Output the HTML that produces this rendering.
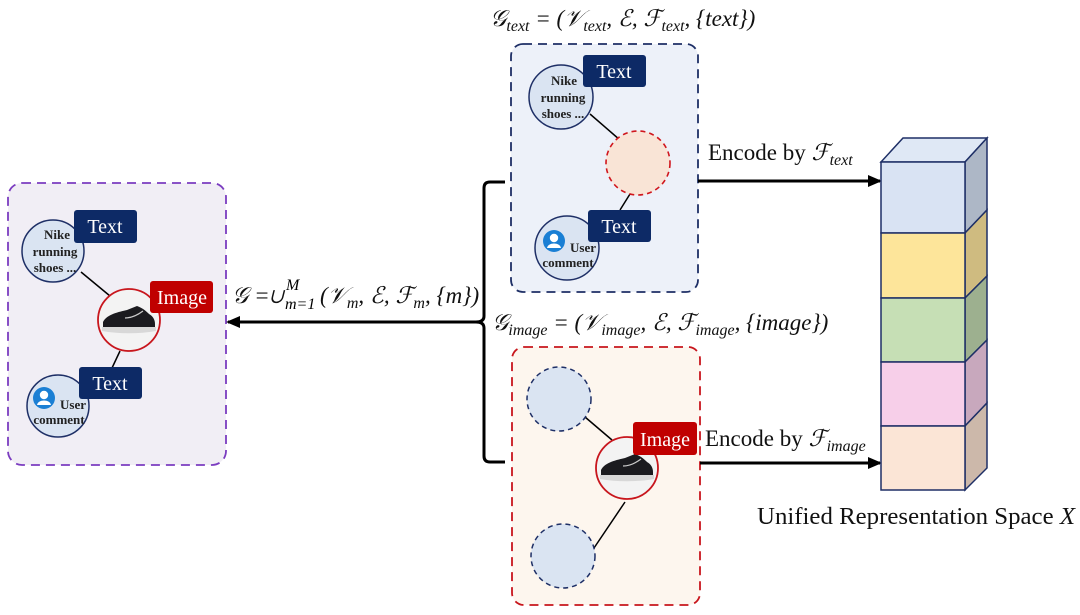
<!DOCTYPE html>
<html><head><meta charset="utf-8"><style>
html,body{margin:0;padding:0;background:#fff;}
svg{display:block;}
text{font-family:"Liberation Serif",serif;}
.lbl{font-size:20px;fill:#fff;}
.node{font-size:13px;font-weight:bold;fill:#222;}
.math{font-size:23px;font-style:italic;fill:#111;}
.sub{font-size:16px;}
</style></head><body>
<svg width="1080" height="615" viewBox="0 0 1080 615" xmlns="http://www.w3.org/2000/svg">
<defs>
<marker id="ah" markerWidth="14" markerHeight="12" refX="12" refY="6" orient="auto" markerUnits="userSpaceOnUse">
<path d="M0,0 L14,6 L0,12 Z" fill="#000"/></marker>
<g id="shoe">
<circle r="31" fill="#f3f3f3"/>
<path d="M-26,2 C-22,-6 -10,-8 -2,-10 L8,-14 C14,-12 18,-8 20,-6 C24,-4 26,0 26,4 L26,8 L-26,8 Z" fill="#1b1b1f"/>
<path d="M-27,7 L27,7 L27,11 C10,14 -10,14 -27,11 Z" fill="#d8d8d8"/>
<path d="M-4,-2 C4,-2 10,-6 14,-9" stroke="#ccc" stroke-width="1.2" fill="none"/>
</g>
<g id="user">
<circle r="11" fill="#1a7fd4"/>
<circle cy="-3" r="4.2" fill="#fff"/>
<path d="M-7,7 C-6,1 6,1 7,7 Z" fill="#fff"/>
</g>
</defs>

<rect x="8" y="183" width="218" height="282" rx="14" fill="#f1eef5" stroke="#7b3cc0" stroke-width="1.8" stroke-dasharray="9,6"/>
<line x1="81" y1="272" x2="110" y2="296" stroke="#000" stroke-width="1.5"/>
<line x1="120" y1="351" x2="112" y2="368" stroke="#000" stroke-width="1.5"/>
<circle cx="53" cy="251" r="31" fill="#dae4f2" stroke="#1e2f66" stroke-width="1.5"/>
<text class="node" x="57" y="239" text-anchor="middle">Nike</text>
<text class="node" x="55" y="256" text-anchor="middle">running</text>
<text class="node" x="55" y="272" text-anchor="middle">shoes ...</text>
<rect x="74" y="210" width="63" height="33" rx="3" fill="#0d2a66"/>
<text class="lbl" x="105" y="233" text-anchor="middle">Text</text>
<use href="#shoe" x="129" y="320"/>
<circle cx="129" cy="320" r="31" fill="none" stroke="#c8161d" stroke-width="1.8"/>
<rect x="150" y="281" width="63" height="32" rx="3" fill="#c00000"/>
<text class="lbl" x="182" y="304" text-anchor="middle">Image</text>
<circle cx="58" cy="406" r="31" fill="#dae4f2" stroke="#1e2f66" stroke-width="1.5"/>
<use href="#user" x="44" y="398"/>
<text class="node" x="73" y="409" text-anchor="middle">User</text>
<text class="node" x="59" y="424" text-anchor="middle">comment</text>
<rect x="79" y="367" width="63" height="32" rx="3" fill="#0d2a66"/>
<text class="lbl" x="110" y="390" text-anchor="middle">Text</text>

<text class="math" x="232" y="303">𝒢 =∪</text>
<text class="sub" x="286" y="290" font-style="italic">M</text>
<text class="sub" x="285" y="309" font-style="italic">m=1</text>
<text class="math" x="320" y="303">(𝒱<tspan class="sub" dy="5">m</tspan><tspan dy="-5">, ℰ, ℱ</tspan><tspan class="sub" dy="5">m</tspan><tspan dy="-5">, {m})</tspan></text>

<path d="M505,182 L490,182 Q484,182 484,188 L484,316 Q484,322 476,322 Q484,322 484,328 L484,456 Q484,462 490,462 L505,462" fill="none" stroke="#000" stroke-width="3"/>
<line x1="478" y1="322" x2="228" y2="322" stroke="#000" stroke-width="3" marker-end="url(#ah)"/>

<text class="math" x="490" y="26">𝒢<tspan class="sub" dy="5">text</tspan><tspan dy="-5"> = (𝒱</tspan><tspan class="sub" dy="5">text</tspan><tspan dy="-5">, ℰ, ℱ</tspan><tspan class="sub" dy="5">text</tspan><tspan dy="-5">, {text})</tspan></text>
<rect x="511" y="44" width="187" height="248" rx="12" fill="#edf1f9" stroke="#1e2f66" stroke-width="1.8" stroke-dasharray="9,6"/>
<line x1="590" y1="114" x2="620" y2="140" stroke="#000" stroke-width="1.5"/>
<line x1="630" y1="194" x2="620" y2="210" stroke="#000" stroke-width="1.5"/>
<circle cx="561" cy="97" r="32" fill="#dae4f2" stroke="#1e2f66" stroke-width="1.5"/>
<text class="node" x="564" y="85" text-anchor="middle">Nike</text>
<text class="node" x="563" y="102" text-anchor="middle">running</text>
<text class="node" x="563" y="118" text-anchor="middle">shoes ...</text>
<rect x="583" y="55" width="63" height="32" rx="3" fill="#0d2a66"/>
<text class="lbl" x="614" y="78" text-anchor="middle">Text</text>
<circle cx="638" cy="163" r="32" fill="#f9e4d6" stroke="#d0161d" stroke-width="1.6" stroke-dasharray="5,4"/>
<circle cx="567" cy="248" r="32" fill="#dae4f2" stroke="#1e2f66" stroke-width="1.5"/>
<use href="#user" x="554" y="241"/>
<text class="node" x="583" y="252" text-anchor="middle">User</text>
<text class="node" x="568" y="267" text-anchor="middle">comment</text>
<rect x="588" y="210" width="63" height="32" rx="3" fill="#0d2a66"/>
<text class="lbl" x="619" y="233" text-anchor="middle">Text</text>

<text class="math" x="492" y="330">𝒢<tspan class="sub" dy="5">image</tspan><tspan dy="-5"> = (𝒱</tspan><tspan class="sub" dy="5">image</tspan><tspan dy="-5">, ℰ, ℱ</tspan><tspan class="sub" dy="5">image</tspan><tspan dy="-5">, {image})</tspan></text>
<rect x="512" y="347" width="188" height="258" rx="12" fill="#fdf6ee" stroke="#c8161d" stroke-width="1.8" stroke-dasharray="9,6"/>
<line x1="585" y1="417" x2="612" y2="440" stroke="#000" stroke-width="1.5"/>
<line x1="625" y1="502" x2="594" y2="548" stroke="#000" stroke-width="1.5"/>
<circle cx="559" cy="399" r="32" fill="#dae4f2" stroke="#1e2f66" stroke-width="1.5" stroke-dasharray="5,4"/>
<circle cx="563" cy="556" r="32" fill="#dae4f2" stroke="#1e2f66" stroke-width="1.5" stroke-dasharray="5,4"/>
<use href="#shoe" x="627" y="468"/>
<circle cx="627" cy="468" r="31" fill="none" stroke="#c8161d" stroke-width="1.8"/>
<rect x="633" y="422" width="64" height="33" rx="3" fill="#c00000"/>
<text class="lbl" x="665" y="446" text-anchor="middle">Image</text>

<text x="708" y="160" font-size="23" fill="#111">Encode by <tspan font-style="italic">ℱ</tspan><tspan font-style="italic" font-size="16" dy="5">text</tspan></text>
<line x1="698" y1="181" x2="880" y2="181" stroke="#000" stroke-width="3" marker-end="url(#ah)"/>
<text x="705" y="446" font-size="23" fill="#111">Encode by <tspan font-style="italic">ℱ</tspan><tspan font-style="italic" font-size="16" dy="5">image</tspan></text>
<line x1="700" y1="463" x2="880" y2="463" stroke="#000" stroke-width="3" marker-end="url(#ah)"/>

<g stroke="#1e2f66" stroke-width="1.5">
<polygon points="881,162 903,138 987,138 965,162" fill="#dfe8f5"/>
<polygon points="965,162 987,138 987,210 965,233" fill="#adb7c6"/>
<polygon points="965,233 987,210 987,276 965,298" fill="#cfbb80"/>
<polygon points="965,298 987,276 987,340 965,362" fill="#9db08f"/>
<polygon points="965,362 987,340 987,403 965,426" fill="#c8a8bd"/>
<polygon points="965,426 987,403 987,468 965,490" fill="#ccb8aa"/>
<rect x="881" y="162" width="84" height="71" fill="#d9e3f3"/>
<rect x="881" y="233" width="84" height="65" fill="#fde59a"/>
<rect x="881" y="298" width="84" height="64" fill="#c6dfb5"/>
<rect x="881" y="362" width="84" height="64" fill="#f7cfe9"/>
<rect x="881" y="426" width="84" height="64" fill="#fbe5d6"/>
</g>
<text x="757" y="524" font-size="24" fill="#111" textLength="318" lengthAdjust="spacingAndGlyphs">Unified Representation Space <tspan font-style="italic">X</tspan></text>
</svg>
</body></html>
